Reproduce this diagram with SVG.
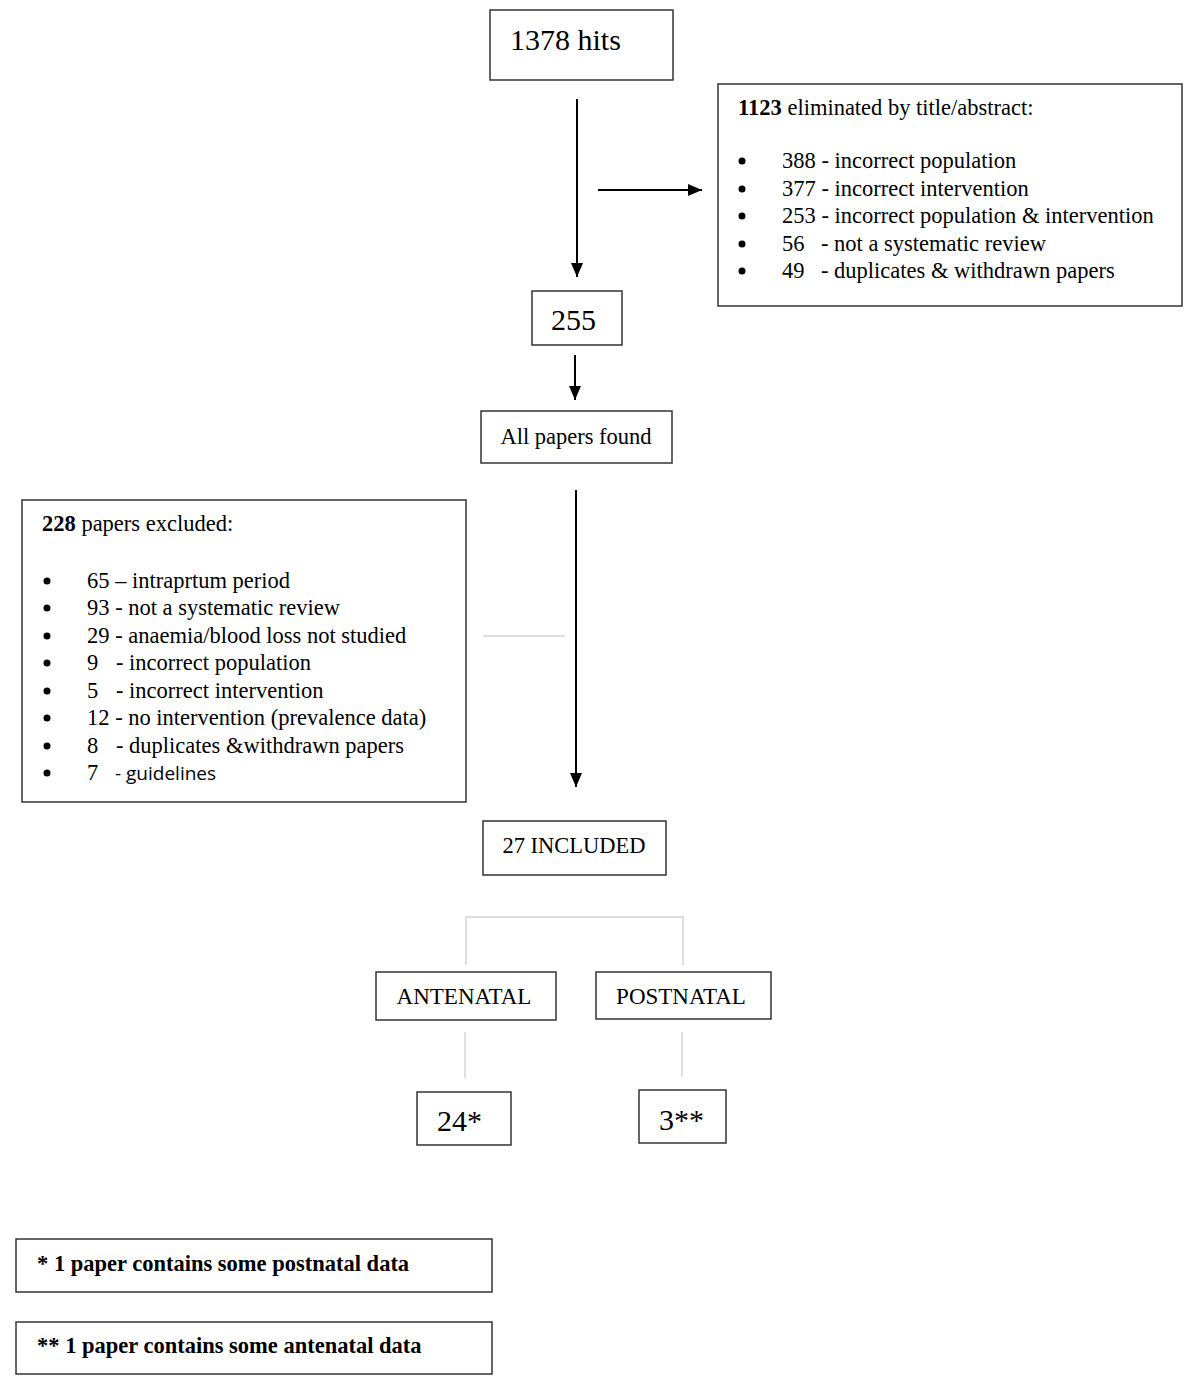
<svg xmlns="http://www.w3.org/2000/svg" width="1200" height="1391" viewBox="0 0 1200 1391">
<style>
.box{fill:#fff;stroke:#333;stroke-width:1.5}
.t{font-family:"Liberation Serif","Times New Roman",serif;fill:#000}
.s21{font-size:22.5px}
.s28{font-size:30px}
.s23{font-size:23px}
.b{font-weight:bold}
.arr{stroke:#000;stroke-width:2;fill:none}
.gray{stroke:#d4d4d4;stroke-width:1.5;fill:none}
.dot{fill:#000}
</style>
<defs>
<marker id="ah" markerWidth="14" markerHeight="12" refX="14" refY="6" orient="auto" markerUnits="userSpaceOnUse" viewBox="0 0 14 12">
<path d="M0,0 L14,6 L0,12 z" fill="#000"/>
</marker>
</defs>
<rect width="1200" height="1391" fill="#fff"/>
<g id="connectors">
<line class="arr" x1="577" y1="99" x2="577" y2="277" marker-end="url(#ah)"/>
<line class="arr" x1="598" y1="190" x2="702" y2="190" marker-end="url(#ah)"/>
<line class="arr" x1="575" y1="355" x2="575" y2="400" marker-end="url(#ah)"/>
<line class="arr" x1="576" y1="490" x2="576" y2="787" marker-end="url(#ah)"/>
<line class="gray" x1="483" y1="636" x2="565" y2="636"/>
<polyline class="gray" points="466,965 466,917 683,917 683,965"/>
<line class="gray" x1="465" y1="1032" x2="465" y2="1078"/>
<line class="gray" x1="682" y1="1032" x2="682" y2="1077"/>
</g>
<g id="n-hits">
<rect class="box" x="490" y="10" width="183" height="70"/>
<text class="t s28" x="510" y="50">1378 hits</text>
</g>
<g id="n-eliminated">
<rect class="box" x="718" y="84" width="464" height="222"/>
<text class="t s21" x="738" y="115"><tspan class="b">1123</tspan> eliminated by title/abstract:</text>
<g class="dot">
<circle cx="742" cy="161" r="3.5"/><circle cx="742" cy="189" r="3.5"/><circle cx="742" cy="216" r="3.5"/><circle cx="742" cy="244" r="3.5"/><circle cx="742" cy="271" r="3.5"/>
</g>
<g class="t s21">
<text x="782" y="168">388 - incorrect population</text>
<text x="782" y="196">377 - incorrect intervention</text>
<text x="782" y="223">253 - incorrect population &amp; intervention</text>
<text x="782" y="251">56</text><text x="821" y="251">- not a systematic review</text>
<text x="782" y="278">49</text><text x="821" y="278">- duplicates &amp; withdrawn papers</text>
</g>
</g>
<g id="n-255">
<rect class="box" x="532" y="291" width="90" height="54"/>
<text class="t s28" x="551" y="330">255</text>
</g>
<g id="n-all">
<rect class="box" x="481" y="411" width="191" height="52"/>
<text class="t s21" x="576" y="444" text-anchor="middle">All papers found</text>
</g>
<g id="n-excluded">
<rect class="box" x="22" y="500" width="444" height="302"/>
<text class="t s21" x="42" y="531"><tspan class="b">228</tspan> papers excluded:</text>
<g class="dot">
<circle cx="47" cy="581" r="3.5"/><circle cx="47" cy="608" r="3.5"/><circle cx="47" cy="636" r="3.5"/><circle cx="47" cy="663" r="3.5"/><circle cx="47" cy="691" r="3.5"/><circle cx="47" cy="718" r="3.5"/><circle cx="47" cy="746" r="3.5"/><circle cx="47" cy="773" r="3.5"/>
</g>
<g class="t s21">
<text x="87" y="588">65 – intraprtum period</text>
<text x="87" y="615">93 - not a systematic review</text>
<text x="87" y="643">29 - anaemia/blood loss not studied</text>
<text x="87" y="670">9</text><text x="116" y="670">- incorrect population</text>
<text x="87" y="698">5</text><text x="116" y="698">- incorrect intervention</text>
<text x="87" y="725">12 - no intervention (prevalence data)</text>
<text x="87" y="753">8</text><text x="116" y="753">- duplicates &amp;withdrawn papers</text>
<text x="87" y="780">7</text>
</g>
<text x="115" y="780" style="font-family:'Open Sans','Liberation Sans',sans-serif;font-size:19px">- guidelines</text>
</g>
<g id="n-included">
<rect class="box" x="483" y="821" width="183" height="54"/>
<text class="t s21" x="574" y="853" text-anchor="middle">27 INCLUDED</text>
</g>
<g id="n-antenatal">
<rect class="box" x="376" y="972" width="180" height="48"/>
<text class="t s23" x="464" y="1004" text-anchor="middle">ANTENATAL</text>
</g>
<g id="n-postnatal">
<rect class="box" x="596" y="972" width="175" height="47"/>
<text class="t s23" x="681" y="1004" text-anchor="middle">POSTNATAL</text>
</g>
<g id="n-24">
<rect class="box" x="417" y="1092" width="94" height="53"/>
<text class="t s28" x="437" y="1131">24*</text>
</g>
<g id="n-3">
<rect class="box" x="639" y="1090" width="87" height="53"/>
<text class="t s28" x="659" y="1130">3**</text>
</g>
<g id="n-note1">
<rect class="box" x="16" y="1239" width="476" height="53"/>
<text class="t b" x="37" y="1271" style="font-size:22.5px">* 1 paper contains some postnatal data</text>
</g>
<g id="n-note2">
<rect class="box" x="16" y="1322" width="476" height="52"/>
<text class="t b" x="37" y="1353" style="font-size:22.5px">** 1 paper contains some antenatal data</text>
</g>
</svg>
